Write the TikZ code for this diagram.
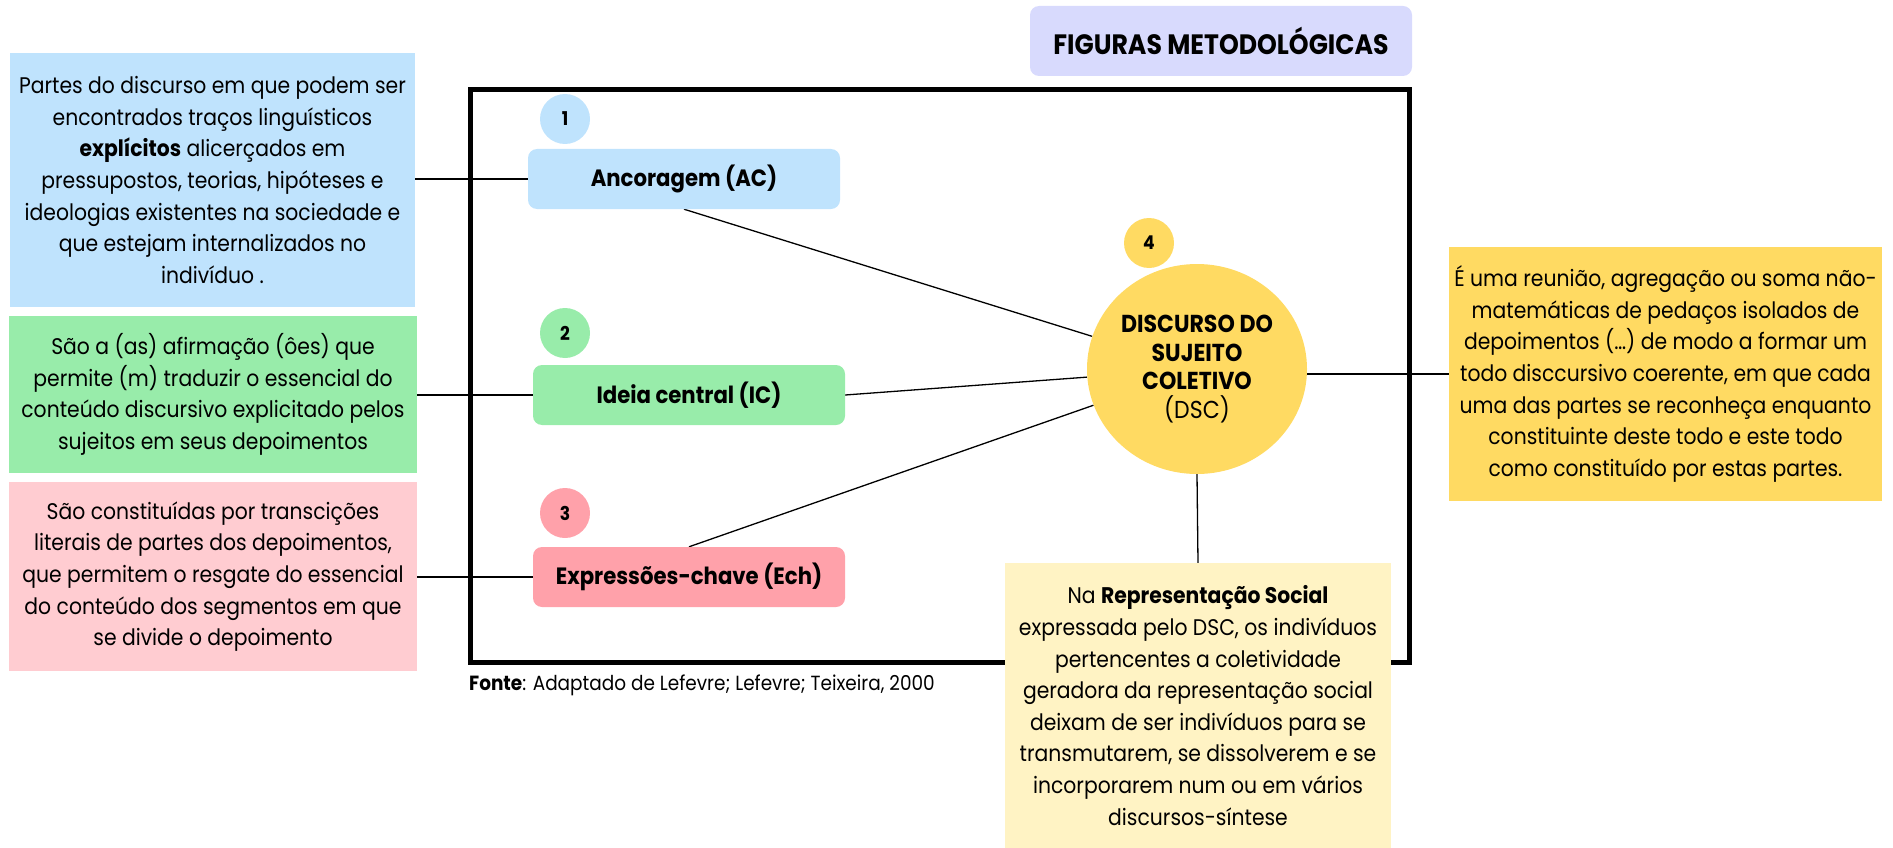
\documentclass[tikz,border=0pt]{standalone}
\usepackage{fontspec}
\setmainfont[FakeStretch=0.9]{Poppins}
\usetikzlibrary{shapes.geometric,backgrounds}

\definecolor{skyfill}{HTML}{BFE3FD}
\definecolor{mintfill}{HTML}{98ECAA}
\definecolor{rosefill}{HTML}{FFCCD1}
\definecolor{rosedeep}{HTML}{FFA1AA}
\definecolor{lavfill}{HTML}{D8DAFD}
\definecolor{sunfill}{HTML}{FFDA62}
\definecolor{creamfill}{HTML}{FFF3C4}

\newcommand\txtbody{\fontsize{22.6}{31.6}\selectfont}
\newcommand\txtlabel{\fontsize{23.6}{26}\selectfont\bfseries}
\newcommand\txttitle{\fontsize{28}{30}\selectfont\bfseries}
\newcommand\txtbadge{\fontsize{19}{20}\selectfont\bfseries}
\newcommand\txtcore{\fontsize{24.5}{28.5}\selectfont}

\tikzset{
  infobox/.style={rectangle, inner sep=0pt, align=center, font=\txtbody},
  tagbox/.style={rectangle, rounded corners=9pt, inner sep=0pt,
    minimum width=312pt, minimum height=60pt, font=\txtlabel},
  badge/.style={circle, inner sep=0pt, minimum size=50pt, font=\txtbadge},
  link/.style={draw=black, line width=1.3pt},
}

\begin{document}
\begin{tikzpicture}[x=1pt,y=-1pt]
\useasboundingbox (0,0) rectangle (1893,848);

% title
\node[rectangle, rounded corners=9pt, fill=lavfill, inner sep=0pt,
  minimum width=382pt, minimum height=70pt, font=\txttitle]
  (title) at (1221,41) {FIGURAS METODOLÓGICAS};

% description boxes on the left
\node[infobox, fill=skyfill, minimum width=405pt, minimum height=254pt]
  (descAC) at (212.5,180) {Partes do discurso em que podem ser\\
  encontrados traços linguísticos\\
  \textbf{explícitos} alicerçados em\\
  pressupostos, teorias, hipóteses e\\
  ideologias existentes na sociedade e\\
  que estejam internalizados no\\
  indivíduo .};
\node[infobox, fill=mintfill, minimum width=408pt, minimum height=157pt]
  (descIC) at (213,394.5) {São a (as) afirmação (ôes) que\\
  permite (m) traduzir o essencial do\\
  conteúdo discursivo explicitado pelos\\
  sujeitos em seus depoimentos};
\node[infobox, fill=rosefill, minimum width=408pt, minimum height=189pt]
  (descECH) at (213,576.5) {São constituídas por transcições\\
  literais de partes dos depoimentos,\\
  que permitem o resgate do essencial\\
  do conteúdo dos segmentos em que\\
  se divide o depoimento};

% the three figures
\node[tagbox, fill=skyfill] (ac) at (684,179) {Ancoragem (AC)};
\node[tagbox, fill=mintfill] (ic) at (689,395) {Ideia central (IC)};
\node[tagbox, fill=rosedeep] (ech) at (689,577) {Expressões-chave (Ech)};

\node[badge, fill=skyfill] (b1) at (565,119) {1};
\node[badge, fill=mintfill] (b2) at (565,333) {2};
\node[badge, fill=rosedeep] (b3) at (565,513) {3};
\node[badge, fill=sunfill] (b4) at (1149,243) {4};

% collective subject discourse
\node[ellipse, fill=sunfill, inner sep=0pt, minimum width=220pt,
  minimum height=210pt, align=center, font=\txtcore]
  (dsc) at (1197,369) {\textbf{DISCURSO DO}\\ \textbf{SUJEITO}\\
  \textbf{COLETIVO}\\ (DSC)};

\node[infobox, fill=sunfill, minimum width=433pt, minimum height=254pt]
  (descDSC) at (1665.5,374) {É uma reunião, agregação ou soma não-\\
  matemáticas de pedaços isolados de\\
  depoimentos (…) de modo a formar um\\
  todo disccursivo coerente, em que cada\\
  uma das partes se reconheça enquanto\\
  constituinte deste todo e este todo\\
  como constituído por estas partes.};

\node[infobox, fill=creamfill, minimum width=386pt, minimum height=285pt]
  (descRS) at (1198,705.5) {Na \textbf{Representação Social}\\
  expressada pelo DSC, os indivíduos\\
  pertencentes a coletividade\\
  geradora da representação social\\
  deixam de ser indivíduos para se\\
  transmutarem, se dissolverem e se\\
  incorporarem num ou em vários\\
  discursos-síntese};

\node[anchor=base west, inner sep=0pt, font=\fontsize{20.5}{22}\selectfont]
  (fonte) at (469,690) {\textbf{Fonte}: Adaptado de Lefevre; Lefevre; Teixeira, 2000};

\begin{scope}[on background layer]
  \draw[line width=5pt] (470,90) rectangle (1409,662);
  \draw[link] (ac.west) -- (ac.west -| descAC.east);
  \draw[link] (ic.west) -- (ic.west -| descIC.east);
  \draw[link] (ech.west) -- (ech.west -| descECH.east);
  \draw[link] (ac.south) -- (dsc);
  \draw[link] (ic.east) -- (dsc);
  \draw[link] (ech.north) -- (dsc);
  \draw[link] (dsc.south) -- (descRS.north);
  \draw[link] (descDSC.west) -- (descDSC.west -| dsc.center);
\end{scope}
\end{tikzpicture}
\end{document}
